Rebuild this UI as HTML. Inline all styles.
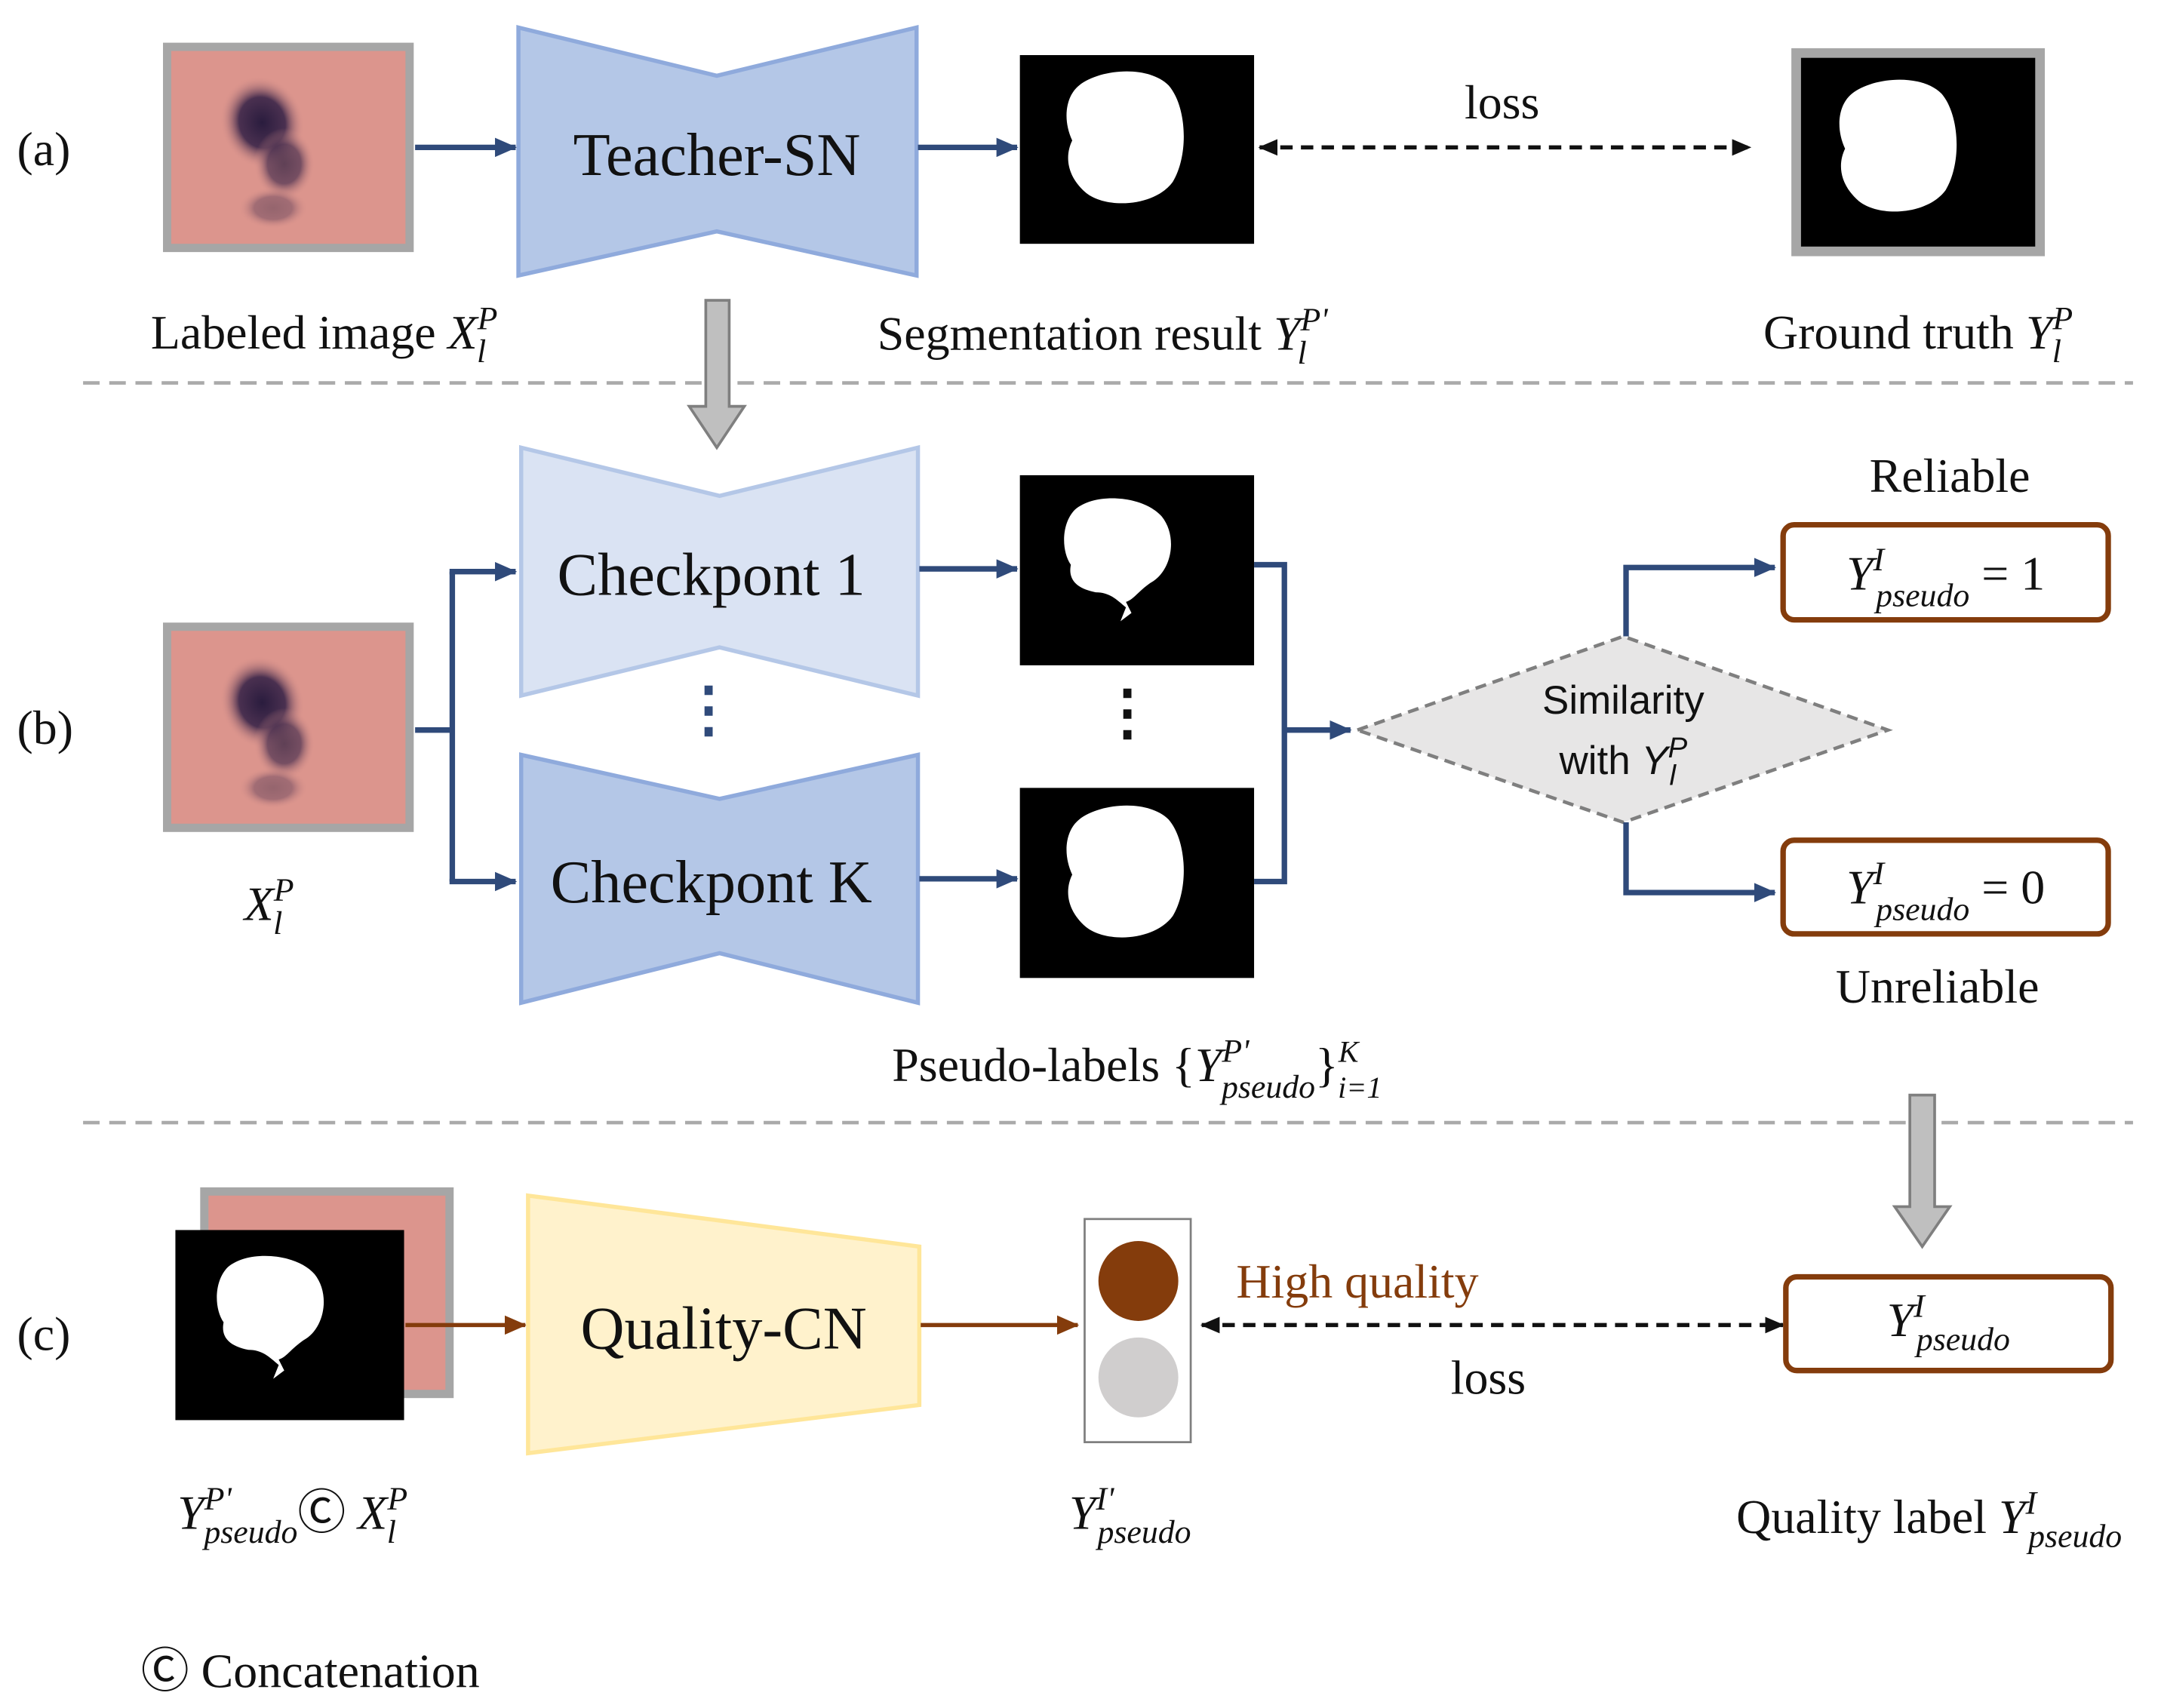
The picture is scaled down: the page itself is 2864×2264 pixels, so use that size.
<!DOCTYPE html>
<html><head><meta charset="utf-8"><style>
html,body{margin:0;padding:0;background:#fff;}
svg{display:block;}
.s{font-family:"Liberation Serif",serif;font-size:35px;fill:#111;}
.n{font-family:"Liberation Serif",serif;font-size:44px;fill:#111;}
.i{font-style:italic;}
.sub{font-size:24px;font-style:italic;}
</style></head><body>
<svg width="2864" height="2264" viewBox="0 0 1568 1240" xmlns="http://www.w3.org/2000/svg">
<defs>
<marker id="ak" markerWidth="14" markerHeight="12" refX="13" refY="6" orient="auto" markerUnits="userSpaceOnUse"><path d="M0,0 L14,6 L0,12 z" fill="#111"/></marker>
<marker id="akr" markerWidth="14" markerHeight="12" refX="1" refY="6" orient="auto" markerUnits="userSpaceOnUse"><path d="M14,0 L0,6 L14,12 z" fill="#111"/></marker>
<marker id="abr" markerWidth="16" markerHeight="14" refX="15" refY="7" orient="auto" markerUnits="userSpaceOnUse"><path d="M0,0 L16,7 L0,14 z" fill="#843c0c"/></marker>
<marker id="bb" markerWidth="16" markerHeight="14" refX="15" refY="7" orient="auto" markerUnits="userSpaceOnUse"><path d="M0,0 L16,7 L0,14 z" fill="#2f4a7a"/></marker>
<radialGradient id="les" cx="0.5" cy="0.5" r="0.5">
<stop offset="0" stop-color="#2a1c3e"/><stop offset="0.55" stop-color="#4a3050"/><stop offset="1" stop-color="#d9938c" stop-opacity="0"/></radialGradient>
<g id="skin">
<rect x="0" y="0" width="182" height="152" fill="#a6a6a6"/>
<rect x="6" y="6" width="170" height="140" fill="#dc958d"/>
<ellipse cx="72" cy="58" rx="30" ry="34" fill="url(#les)" transform="rotate(-20 72 58)"/>
<ellipse cx="88" cy="88" rx="22" ry="26" fill="url(#les)" opacity="0.7"/>
<ellipse cx="80" cy="120" rx="25" ry="15" fill="url(#les)" opacity="0.4"/>
</g>
<path id="blob1" d="M40,30 C55,18 90,15 105,30 C118,45 120,80 108,100 C95,118 60,120 45,108 C30,95 30,80 35,70 C28,55 30,38 40,30 Z" fill="#fff"/>
<path id="blob2" d="M45,35 C60,22 95,25 108,40 C120,55 115,80 100,88 C90,95 88,100 82,102 L86,110 L78,116 L82,106 C75,100 70,95 60,95 C45,92 40,85 42,75 C35,65 35,45 45,35 Z" fill="#fff"/>
</defs>

<!-- (a) -->
<text x="12" y="120" class="s">(a)</text>
<use href="#skin" x="118" y="31"/>
<line x1="301" y1="107" x2="374" y2="107" stroke="#2f4a7a" stroke-width="4" marker-end="url(#bb)"/>
<path d="M376,20 L520,55 L665,20 L665,200 L520,168 L376,200 Z" fill="#b4c7e7" stroke="#8faadc" stroke-width="3"/>
<text x="520" y="127" class="n" text-anchor="middle">Teacher-SN</text>
<line x1="666" y1="107" x2="738" y2="107" stroke="#2f4a7a" stroke-width="4" marker-end="url(#bb)"/>
<rect x="740" y="40" width="170" height="137" fill="#000"/>
<use href="#blob1" x="743" y="32"/>
<line x1="914" y1="107" x2="1270" y2="107" stroke="#111" stroke-width="3" stroke-dasharray="9,6" marker-start="url(#akr)" marker-end="url(#ak)"/>
<text x="1090" y="86" class="s" text-anchor="middle">loss</text>
<rect x="1300" y="35" width="184" height="151" fill="#a6a6a6"/>
<rect x="1307" y="42" width="170" height="137" fill="#000"/>
<use href="#blob1" x="1304" y="38"/>
<text x="235" y="253" class="s" text-anchor="middle">Labeled image <tspan class="i">X</tspan><tspan class="sub" dy="-14">P</tspan><tspan class="sub" dx="-15" dy="24">l</tspan></text>
<text x="800" y="254" class="s" text-anchor="middle">Segmentation result <tspan class="i">Y</tspan><tspan class="sub" dy="-14">P'</tspan><tspan class="sub" dx="-22" dy="24">l</tspan></text>
<text x="1392" y="253" class="s" text-anchor="middle">Ground truth <tspan class="i">Y</tspan><tspan class="sub" dy="-14">P</tspan><tspan class="sub" dx="-15" dy="24">l</tspan></text>

<line x1="60" y1="278" x2="1548" y2="278" stroke="#aaa" stroke-width="2.5" stroke-dasharray="12,7"/>
<path d="M512,218 L529,218 L529,295 L540,295 L520,325 L500,295 L512,295 Z" fill="#bfbfbf" stroke="#7f7f7f" stroke-width="2"/>

<!-- (b) -->
<text x="12" y="540" class="s">(b)</text>
<use href="#skin" x="118" y="452"/>
<path d="M301,530 L328,530 M328,415 L328,640" stroke="#2f4a7a" stroke-width="4" fill="none"/>
<line x1="326" y1="415" x2="374" y2="415" stroke="#2f4a7a" stroke-width="4" marker-end="url(#bb)"/>
<line x1="326" y1="640" x2="374" y2="640" stroke="#2f4a7a" stroke-width="4" marker-end="url(#bb)"/>
<path d="M378,325 L522,360 L666,325 L666,505 L522,470 L378,505 Z" fill="#dae3f3" stroke="#b4c7e7" stroke-width="3"/>
<text x="516" y="432" class="n" text-anchor="middle">Checkpont 1</text>
<text x="514" y="530" class="n" text-anchor="middle" font-weight="bold" fill="#2f4a7a" style="fill:#2f4a7a">⋮</text>
<path d="M378,548 L522,580 L666,548 L666,728 L522,692 L378,728 Z" fill="#b4c7e7" stroke="#8faadc" stroke-width="3"/>
<text x="516" y="655" class="n" text-anchor="middle">Checkpont K</text>
<line x1="667" y1="413" x2="738" y2="413" stroke="#2f4a7a" stroke-width="4" marker-end="url(#bb)"/>
<line x1="667" y1="638" x2="738" y2="638" stroke="#2f4a7a" stroke-width="4" marker-end="url(#bb)"/>
<rect x="740" y="345" width="170" height="138" fill="#000"/>
<use href="#blob2" x="735" y="335"/>
<text x="818" y="532" class="n" text-anchor="middle" font-weight="bold">⋮</text>
<rect x="740" y="572" width="170" height="138" fill="#000"/>
<use href="#blob1" x="743" y="565"/>
<path d="M910,410 L932,410 L932,640 L910,640" stroke="#2f4a7a" stroke-width="4" fill="none"/>
<line x1="932" y1="530" x2="980" y2="530" stroke="#2f4a7a" stroke-width="4" marker-end="url(#bb)"/>
<path d="M985,530 L1178,462 L1370,530 L1178,597 Z" fill="#e7e6e6" stroke="#7f7f7f" stroke-width="2.5" stroke-dasharray="8,5"/>
<text x="1178" y="518" font-family="Liberation Sans,sans-serif" font-size="29" text-anchor="middle" fill="#111">Similarity</text>
<text x="1178" y="562" font-family="Liberation Sans,sans-serif" font-size="29" text-anchor="middle" fill="#111">with <tspan class="i">Y</tspan><tspan font-size="21" font-style="italic" dy="-12">P</tspan><tspan font-size="21" font-style="italic" dx="-13" dy="20">l</tspan></text>
<path d="M1180,462 L1180,412 L1288,412" stroke="#2f4a7a" stroke-width="4" fill="none" marker-end="url(#bb)"/>
<path d="M1180,597 L1180,648 L1288,648" stroke="#2f4a7a" stroke-width="4" fill="none" marker-end="url(#bb)"/>
<rect x="1294" y="381" width="236" height="69" rx="8" fill="#fff" stroke="#843c0c" stroke-width="4"/>
<text x="1412" y="428" class="s" text-anchor="middle"><tspan class="i">Y</tspan><tspan class="sub" dy="-14">I</tspan><tspan class="sub" dx="-6" dy="26">pseudo</tspan><tspan dy="-12"> = 1</tspan></text>
<rect x="1294" y="610" width="236" height="68" rx="8" fill="#fff" stroke="#843c0c" stroke-width="4"/>
<text x="1412" y="656" class="s" text-anchor="middle"><tspan class="i">Y</tspan><tspan class="sub" dy="-14">I</tspan><tspan class="sub" dx="-6" dy="26">pseudo</tspan><tspan dy="-12"> = 0</tspan></text>
<text x="1415" y="357" class="s" text-anchor="middle">Reliable</text>
<text x="1406" y="728" class="s" text-anchor="middle">Unreliable</text>
<text x="195" y="668" class="s" text-anchor="middle"><tspan class="i">X</tspan><tspan class="sub" dy="-14">P</tspan><tspan class="sub" dx="-15" dy="24">l</tspan></text>
<text x="825" y="785" class="s" text-anchor="middle">Pseudo-labels {<tspan class="i">Y</tspan><tspan class="sub" dy="-14">P'</tspan><tspan class="sub" dx="-20" dy="26">pseudo</tspan><tspan dy="-12">}</tspan><tspan font-size="22" font-style="italic" dy="-14">K</tspan><tspan font-size="22" font-style="italic" dx="-15" dy="26">i=1</tspan></text>

<line x1="60" y1="815" x2="1548" y2="815" stroke="#aaa" stroke-width="2.5" stroke-dasharray="12,7"/>
<path d="M1386,795 L1404,795 L1404,876 L1415,876 L1395,905 L1375,876 L1386,876 Z" fill="#bfbfbf" stroke="#7f7f7f" stroke-width="2"/>

<!-- (c) -->
<text x="12" y="980" class="s">(c)</text>
<rect x="145" y="862" width="184" height="153" fill="#a6a6a6"/>
<rect x="151" y="868" width="172" height="141" fill="#dc958d"/>
<rect x="127" y="893" width="166" height="138" fill="#000"/>
<use href="#blob2" x="120" y="885"/>
<line x1="294" y1="962" x2="381" y2="962" stroke="#843c0c" stroke-width="3" marker-end="url(#abr)"/>
<path d="M383,868 L667,905 L667,1020 L383,1055 Z" fill="#fff2cc" stroke="#ffe699" stroke-width="3"/>
<text x="525" y="979" class="n" text-anchor="middle">Quality-CN</text>
<line x1="668" y1="962" x2="782" y2="962" stroke="#843c0c" stroke-width="3" marker-end="url(#abr)"/>
<rect x="787" y="885" width="77" height="162" fill="#fff" stroke="#7f7f7f" stroke-width="1.5"/>
<circle cx="826" cy="930" r="29" fill="#843c0c"/>
<circle cx="826" cy="1000" r="29" fill="#d0cece"/>
<text x="985" y="942" class="s" text-anchor="middle" style="fill:#843c0c">High quality</text>
<line x1="872" y1="962" x2="1294" y2="962" stroke="#111" stroke-width="3" stroke-dasharray="9,6" marker-start="url(#akr)" marker-end="url(#ak)"/>
<text x="1080" y="1012" class="s" text-anchor="middle">loss</text>
<rect x="1296" y="927" width="236" height="68" rx="8" fill="#fff" stroke="#843c0c" stroke-width="4"/>
<text x="1414" y="970" class="s" text-anchor="middle"><tspan class="i">Y</tspan><tspan class="sub" dy="-14">I</tspan><tspan class="sub" dx="-6" dy="24">pseudo</tspan></text>
<text x="212" y="1110" class="s" text-anchor="middle"><tspan class="i">Y</tspan><tspan class="sub" dy="-14">P'</tspan><tspan class="sub" dx="-20" dy="24">pseudo</tspan><tspan dy="-10">Ⓒ </tspan><tspan class="i">X</tspan><tspan class="sub" dy="-14">P</tspan><tspan class="sub" dx="-15" dy="24">l</tspan></text>
<text x="820" y="1110" class="s" text-anchor="middle"><tspan class="i">Y</tspan><tspan class="sub" dy="-14">I'</tspan><tspan class="sub" dx="-12" dy="24">pseudo</tspan></text>
<text x="1400" y="1113" class="s" text-anchor="middle">Quality label <tspan class="i">Y</tspan><tspan class="sub" dy="-14">I</tspan><tspan class="sub" dx="-6" dy="24">pseudo</tspan></text>
<text x="102" y="1225" class="s">Ⓒ Concatenation</text>
</svg>
</body></html>
